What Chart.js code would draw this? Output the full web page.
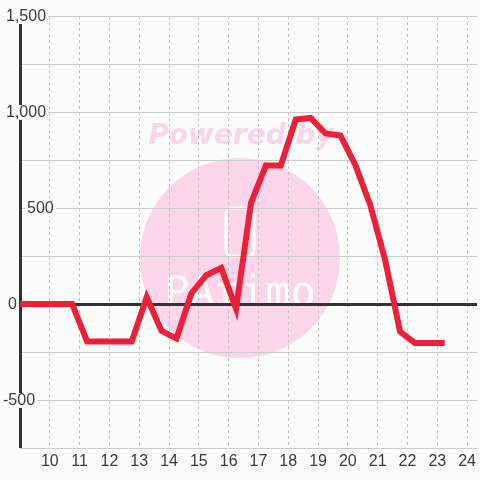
<!DOCTYPE html>
<html>
<head>
<meta charset="utf-8">
<script src="https://cdn.jsdelivr.net/npm/chart.js@4/dist/chart.umd.min.js"></script>
<style>
  html, body { margin: 0; padding: 0; background: #fbfdfb; }
  #wrap { width: 480px; height: 480px; }
</style>
</head>
<body>
<div id="wrap"><canvas id="c" width="480" height="480"></canvas></div>
<script>
// ---- data ----
const hours = [8.75, 9.25, 9.75, 10.25, 10.75, 11.25, 11.75, 12.25, 12.75, 13.25,
               13.75, 14.25, 14.75, 15.25, 15.75, 16.25, 16.75, 17.25, 17.75, 18.25,
               18.75, 19.25, 19.75, 20.25, 20.75, 21.25, 21.75, 22.25, 22.75, 23.25];
const values = [0, 0, 0, 0, 0, -195, -195, -195, -195, 35,
                -140, -180, 55, 150, 188, -25, 526, 722, 722, 961,
                969, 888, 878, 724, 516, 229, -144, -203, -203, -203];
const xTickValues = [9, 10, 11, 12, 13, 14, 15, 16, 17, 18, 19, 20, 21, 22, 23, 24];
const yGridValues = [-750, -500, -250, 0, 250, 500, 750, 1000, 1250, 1500];
const yLabelValues = [1500, 1000, 500, 0, -500];

const BG = '#fbfdfb';
const FONT = '"Liberation Sans Narrow", "Liberation Sans", Arial, sans-serif';
const TEXT = '#3a3a3a';

const decoPlugin = {
  id: 'deco',
  beforeDraw(chart) {
    const ctx = chart.ctx;
    ctx.save();
    ctx.fillStyle = BG;
    ctx.fillRect(0, 0, chart.width, chart.height);
    // watermark
    ctx.fillStyle = '#fcd5ea';
    ctx.beginPath();
    ctx.arc(240, 258, 100, 0, Math.PI * 2);
    ctx.fill();
    ctx.font = 'italic bold 28px "DejaVu Sans", sans-serif';
    ctx.textAlign = 'center';
    ctx.textBaseline = 'alphabetic';
    ctx.fillText('Powered by', 241, 144);
    ctx.strokeStyle = '#ffffff';
    ctx.lineWidth = 3;
    const rx = 226, ry = 208, rw = 28, rh = 48, rr = 6;
    ctx.beginPath();
    ctx.moveTo(rx + rr, ry);
    ctx.arcTo(rx + rw, ry, rx + rw, ry + rh, rr);
    ctx.arcTo(rx + rw, ry + rh, rx, ry + rh, rr);
    ctx.arcTo(rx, ry + rh, rx, ry, rr);
    ctx.arcTo(rx, ry, rx + rw, ry, rr);
    ctx.closePath();
    ctx.stroke();
    ctx.fillStyle = '#ffffff';
    ctx.font = '42px "DejaVu Sans Mono", monospace';
    ctx.textBaseline = 'alphabetic';
    ctx.fillText('PAtimo', 240, 306);
    ctx.restore();
  },
  beforeDatasetsDraw(chart) {
    const ctx = chart.ctx;
    const area = chart.chartArea;
    const y = chart.scales.y;
    ctx.save();
    ctx.fillStyle = '#333333';
    // zero line
    const y0 = Math.round(y.getPixelForValue(0));
    ctx.fillRect(area.left, y0 - 1, area.right - area.left, 3);
    // y axis line
    ctx.fillRect(area.left - 1, area.top, 3, area.bottom - area.top);
    // y labels
    ctx.font = '16px ' + FONT;
    ctx.textBaseline = 'middle';
    ctx.textAlign = 'left';
    const leftPos = {1500: 6, 1000: 6, 500: 27, 0: 8, '-500': 3};
    yLabelValues.forEach(v => {
      const py = y.getPixelForValue(v);
      const txt = v.toLocaleString('en-US');
      const w = ctx.measureText(txt).width;
      const lx = leftPos[v] !== undefined ? leftPos[v] : 6;
      ctx.fillStyle = BG;
      ctx.fillRect(lx - 2, py - 7, w + 4, 15);
      ctx.fillStyle = TEXT;
      ctx.fillText(txt, lx, py + 1);
    });
    ctx.restore();
  }
};

new Chart(document.getElementById('c'), {
  type: 'line',
  data: {
    datasets: [{
      data: hours.map((h, i) => ({ x: h, y: values[i] })),
      borderColor: '#ee2037',
      borderWidth: 6,
      pointRadius: 0,
      tension: 0,
      fill: false,
      borderJoinStyle: 'miter',
      borderCapStyle: 'butt'
    }]
  },
  options: {
    responsive: false,
    animation: false,
    devicePixelRatio: 1,
    layout: { padding: { top: 16, right: 0, left: 0, bottom: 0 } },
    plugins: { legend: { display: false }, tooltip: { enabled: false } },
    scales: {
      x: {
        type: 'linear',
        min: 9,
        max: 9 + 460 / 30,
        afterBuildTicks(scale) { scale.ticks = xTickValues.map(v => ({ value: v })); },
        afterFit(scale) { scale.height = 32; },
        grid: {
          color: ctx => (ctx.tick && ctx.tick.value === 9) ? 'rgba(0,0,0,0)' : '#c4c4c4',
          lineWidth: 1,
          drawTicks: false
        },
        border: { display: false, dash: [3, 3] },
        ticks: {
          autoSkip: false,
          maxRotation: 0,
          padding: 4,
          color: TEXT,
          font: { family: FONT, size: 16 },
          callback: v => (v === 9 ? '' : String(v))
        }
      },
      y: {
        min: -750,
        max: 1500,
        afterBuildTicks(scale) { scale.ticks = yGridValues.map(v => ({ value: v })); },
        afterFit(scale) { scale.width = 20; },
        grid: { color: '#cccccc', lineWidth: 1, drawTicks: false },
        border: { display: false },
        ticks: { display: false }
      }
    }
  },
  plugins: [decoPlugin]
});
</script>
</body>
</html>
